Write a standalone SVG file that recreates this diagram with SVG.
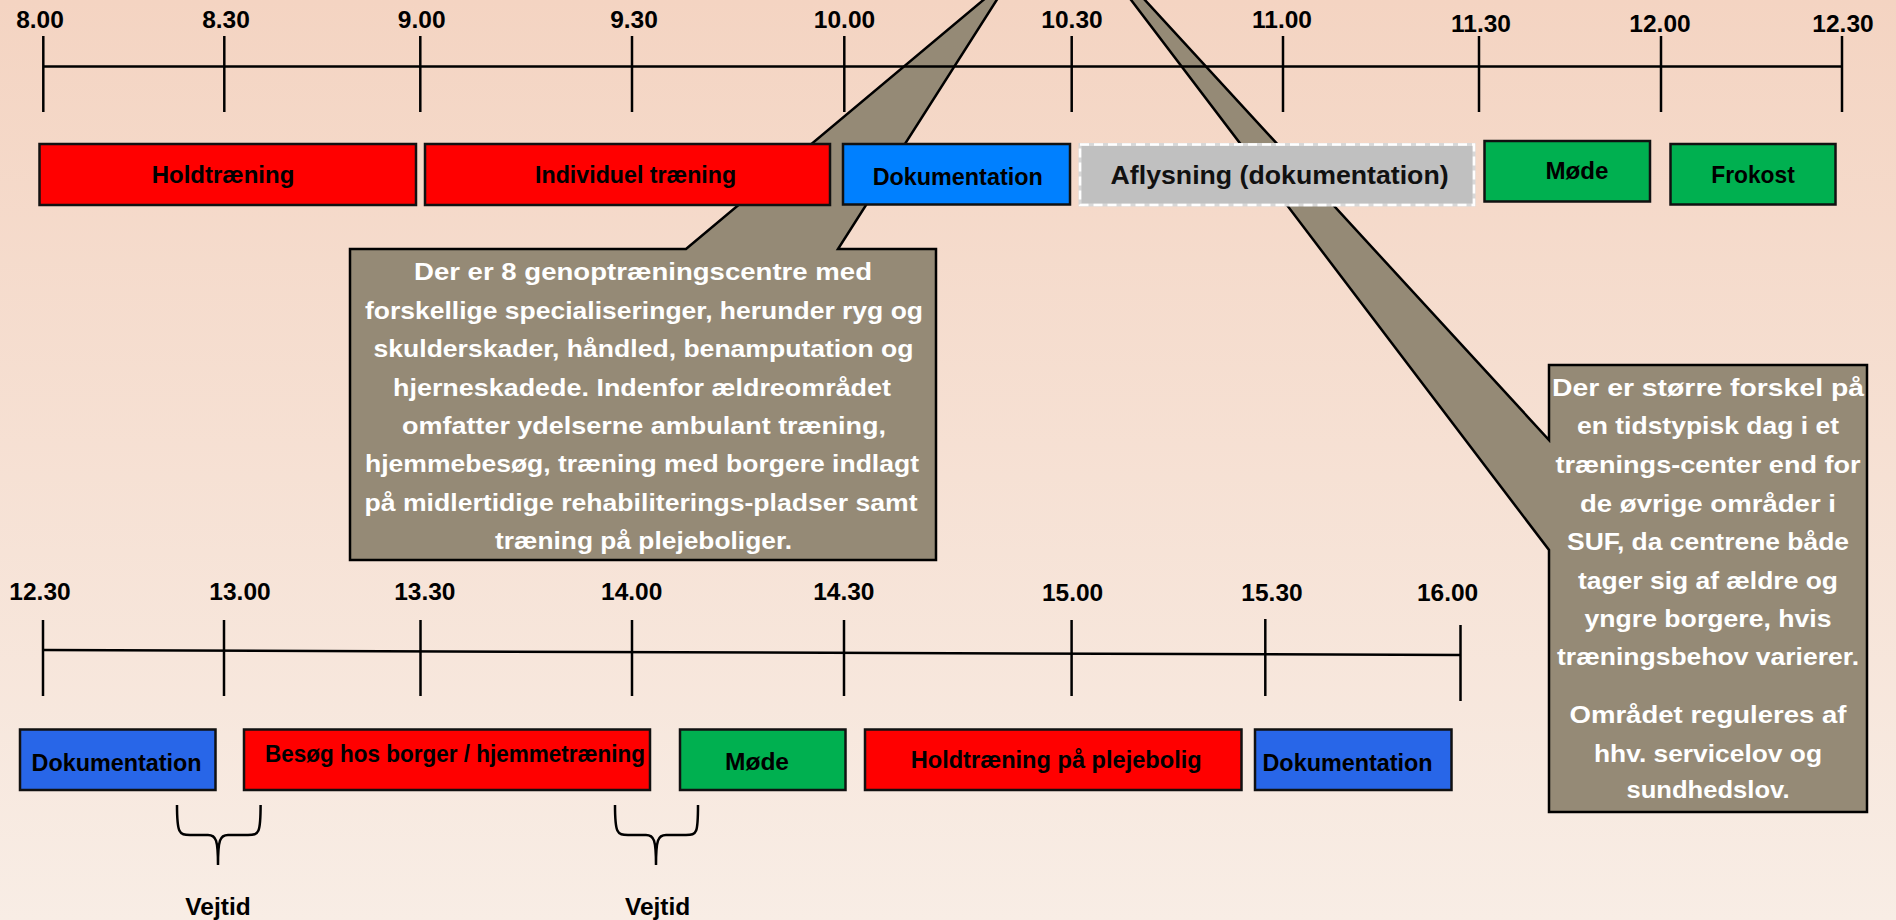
<svg xmlns="http://www.w3.org/2000/svg" width="1896" height="920" viewBox="0 0 1896 920">
<defs>
<linearGradient id="bg" x1="0" y1="0" x2="0" y2="1">
<stop offset="0" stop-color="#f4d4c2"/>
<stop offset="1" stop-color="#f8ede5"/>
</linearGradient>
<style>
text{font-family:"Liberation Sans",Arial,sans-serif;font-weight:bold;text-anchor:middle}
.lbl{font-size:24.5px;fill:#000}
.box{stroke:#111;stroke-width:2.5}
.bt{font-size:24px;fill:#000}
.axis{stroke:#000;stroke-width:2.5;fill:none}
.call{fill:#958a76;stroke:#000;stroke-width:2.5;stroke-linejoin:miter}
.ct{font-size:24px;fill:#fff}
.brace{fill:none;stroke:#000;stroke-width:2.5}
</style>
</defs>
<rect width="1896" height="920" fill="url(#bg)"/>

<g id="callout1">
<path class="call" d="M350,249 L686,249 L1012,-24 L838,249 L936,249 L936,560 L350,560 Z"/>
<text class="ct" x="643" y="280" textLength="458" lengthAdjust="spacingAndGlyphs">Der er 8 genoptræningscentre med</text>
<text class="ct" x="644" y="318.5" textLength="558" lengthAdjust="spacingAndGlyphs">forskellige specialiseringer, herunder ryg og</text>
<text class="ct" x="643.5" y="357" textLength="540" lengthAdjust="spacingAndGlyphs">skulderskader, håndled, benamputation og</text>
<text class="ct" x="642" y="395.5" textLength="498" lengthAdjust="spacingAndGlyphs">hjerneskadede. Indenfor ældreområdet</text>
<text class="ct" x="644" y="434" textLength="484" lengthAdjust="spacingAndGlyphs">omfatter ydelserne ambulant træning,</text>
<text class="ct" x="642" y="472" textLength="554" lengthAdjust="spacingAndGlyphs">hjemmebesøg, træning med borgere indlagt</text>
<text class="ct" x="641" y="510.5" textLength="553" lengthAdjust="spacingAndGlyphs">på midlertidige rehabiliterings-pladser samt</text>
<text class="ct" x="643.5" y="549" textLength="297" lengthAdjust="spacingAndGlyphs">træning på plejeboliger.</text>
</g>

<g id="callout2">
<path class="call" d="M1549,365 L1867,365 L1867,812 L1549,812 L1549,550 L1065,-87 L1549,440 Z"/>
<text class="ct" x="1708" y="396" textLength="312" lengthAdjust="spacingAndGlyphs">Der er større forskel på</text>
<text class="ct" x="1708" y="434" textLength="262" lengthAdjust="spacingAndGlyphs">en tidstypisk dag i et</text>
<text class="ct" x="1708" y="472.7" textLength="305" lengthAdjust="spacingAndGlyphs">trænings-center end for</text>
<text class="ct" x="1708" y="511.7" textLength="256" lengthAdjust="spacingAndGlyphs">de øvrige områder i</text>
<text class="ct" x="1708" y="550" textLength="282" lengthAdjust="spacingAndGlyphs">SUF, da centrene både</text>
<text class="ct" x="1708" y="588.7" textLength="260" lengthAdjust="spacingAndGlyphs">tager sig af ældre og</text>
<text class="ct" x="1708" y="626.7" textLength="247" lengthAdjust="spacingAndGlyphs">yngre borgere, hvis</text>
<text class="ct" x="1708" y="665" textLength="302" lengthAdjust="spacingAndGlyphs">træningsbehov varierer.</text>
<text class="ct" x="1708" y="723.3" textLength="277" lengthAdjust="spacingAndGlyphs">Området reguleres af</text>
<text class="ct" x="1708" y="761.7" textLength="228" lengthAdjust="spacingAndGlyphs">hhv. servicelov og</text>
<text class="ct" x="1708" y="798.3" textLength="163" lengthAdjust="spacingAndGlyphs">sundhedslov.</text>
</g>

<g id="connectors">
<!-- top timeline -->
<line class="axis" x1="43" y1="66.5" x2="1842" y2="66.5"/>
<line class="axis" x1="43.3" y1="36" x2="43.3" y2="112"/>
<line class="axis" x1="224.3" y1="36" x2="224.3" y2="112"/>
<line class="axis" x1="420.3" y1="36" x2="420.3" y2="112"/>
<line class="axis" x1="632" y1="36" x2="632" y2="112"/>
<line class="axis" x1="844.3" y1="36" x2="844.3" y2="112"/>
<line class="axis" x1="1071.7" y1="36" x2="1071.7" y2="112"/>
<line class="axis" x1="1283" y1="36" x2="1283" y2="112"/>
<line class="axis" x1="1479" y1="36" x2="1479" y2="112"/>
<line class="axis" x1="1661" y1="36" x2="1661" y2="112"/>
<line class="axis" x1="1842" y1="36" x2="1842" y2="112"/>
<!-- bottom timeline -->
<line class="axis" x1="43" y1="650" x2="1460.5" y2="655"/>
<line class="axis" x1="43" y1="620" x2="43" y2="696"/>
<line class="axis" x1="224" y1="620" x2="224" y2="696"/>
<line class="axis" x1="420.5" y1="620" x2="420.5" y2="696"/>
<line class="axis" x1="632" y1="620" x2="632" y2="696"/>
<line class="axis" x1="844" y1="620" x2="844" y2="696"/>
<line class="axis" x1="1071.6" y1="620" x2="1071.6" y2="696"/>
<line class="axis" x1="1265.3" y1="619" x2="1265.3" y2="696"/>
<line class="axis" x1="1460.5" y1="625" x2="1460.5" y2="701"/>
<!-- braces -->
<path class="brace" d="M177,805 C177,833 179,835 190,835 L208,835 C216,835 218,840 218,865 C218,840 220,835 228,835 L248,835 C259,835 260.6,833 260.6,805"/>
<path class="brace" d="M615,805 C615,833 617,835 628,835 L646,835 C654,835 656,840 656,865 C656,840 658,835 666,835 L686,835 C697,835 698,833 698,805"/>
</g>

<g id="labels">
<text class="lbl" x="40" y="27.5">8.00</text>
<text class="lbl" x="226" y="27.5">8.30</text>
<text class="lbl" x="421.7" y="27.5">9.00</text>
<text class="lbl" x="634" y="27.5">9.30</text>
<text class="lbl" x="844.5" y="27.5">10.00</text>
<text class="lbl" x="1072" y="28">10.30</text>
<text class="lbl" x="1282" y="28">11.00</text>
<text class="lbl" x="1481" y="31.5">11.30</text>
<text class="lbl" x="1660" y="31.5">12.00</text>
<text class="lbl" x="1843" y="31.5">12.30</text>
<text class="lbl" x="40" y="600">12.30</text>
<text class="lbl" x="240" y="600">13.00</text>
<text class="lbl" x="424.8" y="600">13.30</text>
<text class="lbl" x="631.7" y="600">14.00</text>
<text class="lbl" x="843.8" y="600">14.30</text>
<text class="lbl" x="1072.6" y="600.7">15.00</text>
<text class="lbl" x="1272" y="600.7">15.30</text>
<text class="lbl" x="1447.6" y="600.7">16.00</text>
<text class="lbl" x="218" y="915">Vejtid</text>
<text class="lbl" x="657.6" y="915">Vejtid</text>
</g>

<g id="n-holdtraening">
<rect class="box" x="39.5" y="144" width="376.5" height="61" fill="#ff0000"/>
<text class="bt" x="223" y="182.7" textLength="142.6" lengthAdjust="spacingAndGlyphs">Holdtræning</text>
</g>
<g id="n-individuel">
<rect class="box" x="425" y="144" width="405" height="61" fill="#ff0000"/>
<text class="bt" x="635.6" y="183" textLength="201" lengthAdjust="spacingAndGlyphs">Individuel træning</text>
</g>
<g id="n-dok1">
<rect class="box" x="843" y="144" width="227" height="60.5" fill="#0080ff"/>
<text class="bt" x="957.7" y="185" textLength="170" lengthAdjust="spacingAndGlyphs">Dokumentation</text>
</g>
<g id="n-aflysning">
<rect x="1080" y="144.5" width="394" height="60.5" fill="#c0c0c0" stroke="#d8d8d8" stroke-width="3"/>
<rect x="1080" y="144.5" width="394" height="60.5" fill="none" stroke="#ffffff" stroke-width="2.5" stroke-dasharray="9,5"/>
<text class="bt" x="1279.6" y="184" textLength="338" lengthAdjust="spacingAndGlyphs" style="font-size:26px;fill:#111">Aflysning (dokumentation)</text>
</g>
<g id="n-mode1">
<rect class="box" x="1484.5" y="141" width="165.5" height="60.5" fill="#00b050"/>
<text class="bt" x="1577" y="179" textLength="63" lengthAdjust="spacingAndGlyphs">Møde</text>
</g>
<g id="n-frokost">
<rect class="box" x="1670.5" y="144" width="165" height="60.5" fill="#00b050"/>
<text class="bt" x="1753" y="183" textLength="83.5" lengthAdjust="spacingAndGlyphs">Frokost</text>
</g>

<g id="n-dok2">
<rect class="box" x="20" y="729.5" width="195.5" height="60.5" fill="#2866e8"/>
<text class="bt" x="116.6" y="770.7" textLength="170" lengthAdjust="spacingAndGlyphs">Dokumentation</text>
</g>
<g id="n-besog">
<rect class="box" x="244" y="729.5" width="406" height="60.5" fill="#ff0000"/>
<text class="bt" x="455" y="762" textLength="380" lengthAdjust="spacingAndGlyphs">Besøg hos borger / hjemmetræning</text>
</g>
<g id="n-mode2">
<rect class="box" x="680" y="729.5" width="165.5" height="60.5" fill="#00b050"/>
<text class="bt" x="757" y="770" textLength="64" lengthAdjust="spacingAndGlyphs">Møde</text>
</g>
<g id="n-holdpleje">
<rect class="box" x="865" y="729.5" width="376.5" height="60.5" fill="#ff0000"/>
<text class="bt" x="1056.2" y="768.3" textLength="291" lengthAdjust="spacingAndGlyphs">Holdtræning på plejebolig</text>
</g>
<g id="n-dok3">
<rect class="box" x="1255" y="729.5" width="196.5" height="60.5" fill="#2866e8"/>
<text class="bt" x="1347.5" y="770.7" textLength="170" lengthAdjust="spacingAndGlyphs">Dokumentation</text>
</g>
</svg>
